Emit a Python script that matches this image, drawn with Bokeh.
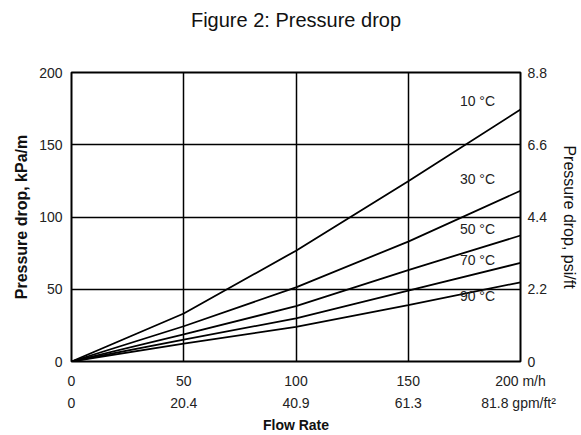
from bokeh.plotting import figure
from bokeh.models import LinearAxis, Range1d, FixedTicker, ColumnDataSource, Title
from bokeh.core.properties import value
from bokeh.embed import file_html
from bokeh.resources import INLINE

# ---- data ----
flow = [0, 50, 100, 150, 200]                       # m/h
p10 = [0, 33.2, 76.7, 124.7, 174.4]                 # kPa/m
p30 = [0, 24.4, 51.3, 83.0, 118.2]
p50 = [0, 18.7, 38.3, 63.3, 87.2]
p70 = [0, 15.2, 29.8, 49.0, 68.2]
p90 = [0, 12.4, 24.0, 39.0, 54.8]
series = [p10, p30, p50, p70, p90]

temp_labels = ["10 °C", "30 °C", "50 °C", "70 °C", "90 °C"]
temp_label_x = [173, 173, 173, 173, 173]
temp_label_y = [180, 126, 92, 70, 45]

kpa_ticks = [0, 50, 100, 150, 200]
psi_ticks = [0, 2.2, 4.4, 6.6, 8.8]
flow_ticks = [0, 50, 100, 150, 200]
flow_labels_mh = ["0", "50", "100", "150", "200 m/h"]
flow_labels_gpm = ["0", "20.4", "40.9", "61.3", "81.8  gpm/ft²"]
title_text = "Figure 2: Pressure drop"

FONT = "Liberation Sans"

p = figure(width=581, height=435, output_backend="svg", toolbar_location=None,
           x_range=Range1d(0, 200), y_range=Range1d(0, 200),
           min_border_left=71, min_border_right=61, min_border_top=72,
           min_border_bottom=50)
p.background_fill_color = "white"
p.border_fill_color = "white"
p.outline_line_color = "black"
p.outline_line_width = 2

# spacer between frame and title, then the title itself (further from frame)
p.add_layout(Title(text=" ", text_font_size="2px", standoff=36), "above")
p.add_layout(Title(text=title_text, text_font=FONT, text_font_size="20px",
                   text_font_style="normal", align="center",
                   vertical_align="top", standoff=0,
                   text_color="#111111"), "above")

# grids
p.xgrid.ticker = FixedTicker(ticks=flow_ticks)
p.ygrid.ticker = FixedTicker(ticks=kpa_ticks)
for g in (p.xgrid, p.ygrid):
    g.grid_line_color = "black"
    g.grid_line_width = 1.5
    g.grid_line_alpha = 1.0

def style_axis(ax):
    ax.axis_line_color = None
    ax.major_tick_line_color = None
    ax.minor_tick_line_color = None
    ax.major_tick_out = 0
    ax.major_tick_in = 0
    ax.minor_tick_out = 0
    ax.minor_tick_in = 0
    ax.major_label_text_font = FONT
    ax.major_label_text_font_size = "14px"
    ax.major_label_text_color = "#222222"
    ax.axis_label_text_font = FONT
    ax.axis_label_text_color = "#111111"

# left axis
la = p.yaxis[0]
style_axis(la)
la.ticker = FixedTicker(ticks=kpa_ticks)
la.major_label_standoff = 9
la.axis_label = "Pressure drop, kPa/m"
la.axis_label_text_font_style = "bold"
la.axis_label_text_font_size = "16px"
la.axis_label_standoff = 6

# right axis
p.extra_y_ranges = {"psi": Range1d(0, 8.8)}
ra = LinearAxis(y_range_name="psi", ticker=FixedTicker(ticks=psi_ticks))
style_axis(ra)
ra.major_label_overrides = {t: str(t) for t in psi_ticks}
ra.major_label_standoff = 7
ra.axis_label = "Pressure drop, psi/ft"
ra.axis_label_text_font_style = "normal"
ra.axis_label_text_font_size = "16px"
ra.axis_label_standoff = 11
p.add_layout(ra, "right")

# bottom axes
ba = p.xaxis[0]
style_axis(ba)
ba.ticker = FixedTicker(ticks=flow_ticks)
ba.major_label_overrides = dict(zip(flow_ticks, flow_labels_mh))
ba.major_label_standoff = 11

ba2 = LinearAxis(ticker=FixedTicker(ticks=flow_ticks))
style_axis(ba2)
ba2.major_label_overrides = dict(zip(flow_ticks, flow_labels_gpm))
ba2.major_label_standoff = 3
ba2.axis_label = "Flow Rate"
ba2.axis_label_text_font_style = "bold"
ba2.axis_label_text_font_size = "14px"
ba2.axis_label_standoff = 3
p.add_layout(ba2, "below")

# lines
for s in series:
    p.line(flow, s, line_color="black", line_width=1.8)

src = ColumnDataSource(dict(x=temp_label_x, y=temp_label_y, t=temp_labels))
p.text(x="x", y="y", text="t", source=src, text_font=value(FONT),
       text_font_size="14px", text_baseline="middle", text_align="left",
       text_color="#222222")

open("out.html", "w").write(file_html(p, INLINE))
